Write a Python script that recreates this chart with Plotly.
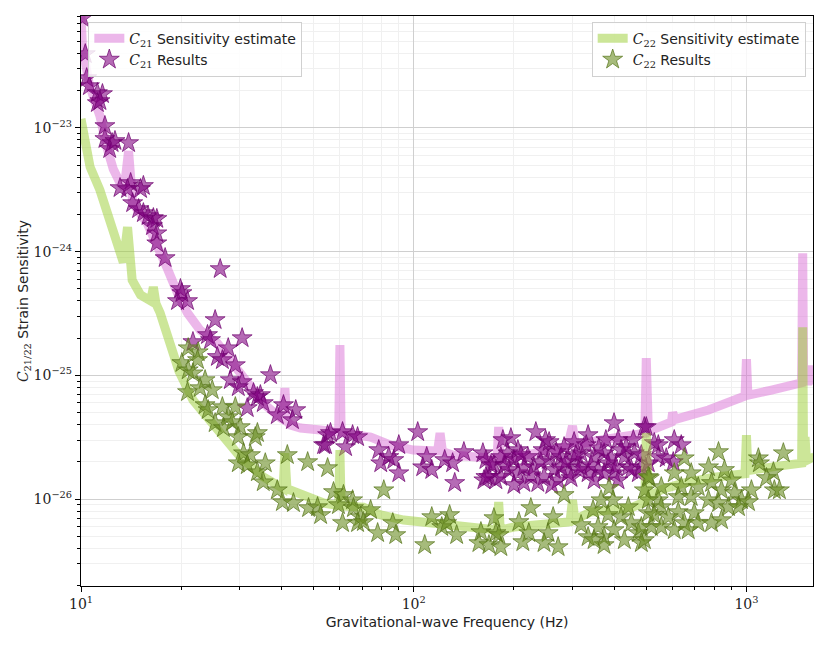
import plotly.graph_objects as go

# ---------------- data ----------------
# Sensitivity estimate curves (frequency in Hz, strain in units of 1e-26)
c21_sens_freq = [10.0, 10.1, 10.6, 11.4, 12.0, 12.5, 13.1, 13.5, 13.9, 14.3, 15.8, 16.9, 18.2, 19.5, 20.9,
                 22.8, 25.7, 29.1, 32.3, 35.8, 39.8, 40.5, 41.0, 41.5, 42.6, 45.7, 52.5, 58.2, 59.5, 60.0,
                 60.5, 64.6, 74.2, 85.3, 99.7, 118, 120, 122, 131, 154, 178, 180, 182, 225, 277, 290, 300,
                 306, 366, 451, 495, 500, 507, 518, 595, 600, 610, 769, 966, 990, 1000, 1010, 1189, 1367,
                 1465, 1476, 1485, 1530, 1545, 1560, 1600]
c21_sens_h = [8000, 4590, 2220, 1248, 676, 465, 359, 330, 650, 247, 170, 117, 72.4, 46.3, 31.9,
              23.2, 18.2, 11.7, 8.04, 5.75, 4.52, 4.4, 7.9, 4.3, 3.97, 3.75, 3.61, 3.48, 3.48, 17.6,
              3.45, 3.35, 3.17, 2.73, 2.49, 2.45, 3.42, 2.42, 2.27, 2.19, 2.14, 3.82, 2.14, 2.31, 2.55, 2.65, 3.9,
              2.75, 3.0, 3.29, 3.4, 13.8, 3.6, 3.61, 4.2, 5.0, 4.4, 5.24, 6.68, 6.8, 13.5, 6.9, 7.6, 8.35,
              8.7, 97, 9.0, 9.0, 12.0, 9.1, 9.2]

c22_sens_freq = [10.0, 10.35, 10.65, 11.4, 12.2, 12.9, 13.4, 13.8, 14.1, 14.25, 15.1, 15.8, 16.2, 16.5, 16.8,
                 17.3, 18.2, 19.7, 21.7, 25.7, 30.1, 35.3, 39.8, 40.5, 41.0, 41.6, 42.6, 47.3, 53.6, 58.2,
                 59.5, 60.0, 60.5, 70.6, 79.6, 93.3, 112, 131, 178, 180, 182, 200, 254, 291, 295, 300, 305,
                 340, 450, 495, 500, 507, 560, 650, 800, 990, 1000, 1010, 1200, 1350, 1465, 1476, 1485,
                 1500, 1515, 1600]
c22_sens_h = [1182, 663, 483, 315, 180, 103, 82, 158, 70, 58.9, 44.6, 40.6, 40, 51.8, 38,
              31.9, 20, 10.8, 6.31, 3.61, 2.19, 1.51, 1.25, 1.22, 2.35, 1.20, 1.18, 1.04, 0.928, 0.894,
              0.89, 2.49, 0.88, 0.861, 0.743, 0.676, 0.640, 0.617, 0.561, 0.946, 0.561, 0.594, 0.617, 0.652, 0.66, 0.98, 0.68,
              0.785, 0.85, 0.95, 3.42, 1.05, 1.2, 1.35, 1.5, 1.6, 3.29, 1.7, 1.82, 1.9, 1.95, 24.5, 2.0,
              3.17, 2.05, 2.2]

# Search results (frequency in Hz, strain in units of 1e-26)
c21_freq = [10.1, 10.3, 10.4, 10.6, 11.2, 11.6, 11.2, 11.4, 11.8, 11.8, 12.4, 12.2, 12.65, 13.9, 13.1, 14.1, 13.8,
            15.4, 15.1, 14.3, 14.9, 15.4, 15.9, 16.5, 16.9, 16.4, 16.9, 16.9, 17.9, 26.2, 19.9, 19.5, 20.9,
            20.1, 25.3, 21.7, 24.0, 24.5, 30.5, 27.7, 25.7, 26.6, 29.1, 28.1, 30.5, 29.7, 37.1, 33.0, 34.6,
            35.3, 33.9, 31.6, 38.9, 40.6, 44.2, 43.2, 55.1, 53.6,
            56.2, 61.1, 54.3, 62.4, 65.5, 67.8, 78.5, 84.1, 90.2, 79.6, 87.1, 90.2, 102.8, 109.4, 106.4, 113.3,
            123.9, 130.9, 141.5, 132.8, 161.4, 164.8, 174.2, 168.3, 176.6, 162.5,
            170.6, 164.8, 185.4, 195.9, 191.9, 200, 193.2, 182.8, 205.6, 214.3, 200, 220.3, 232.8, 229.6, 244.7,
            255.2, 253.5, 264.2, 246.4, 236.0, 277.3, 277.3, 291.1, 303.4, 303.4, 318.4, 334.2, 318.4, 334.2,
            348.3, 358.1, 348.3, 373.3, 383.7, 400, 411.2, 400, 411.2, 429.5, 441.6, 460.3, 457.1, 493.3, 473.2,
            528.4, 507, 419.8, 373.3, 283.1, 214.3, 205.6, 182.8, 271.6,
            500, 543.3, 606.7, 636.8, 602.6, 543.3, 574.1, 483.1,
            210, 241, 268, 297, 307, 330, 341, 360, 392, 405, 435, 451, 483, 188, 225, 260, 287, 313, 378, 249]
c21_h = [7730, 3955, 2530, 2180, 1915, 1880, 1590, 1650, 1037, 815, 755, 676, 785, 755, 327, 359, 321,
         340, 321, 247, 221, 205, 194, 187, 184, 161, 141, 117, 88.8, 72.4, 49.9, 39.9, 39.9,
         46.3, 28.0, 18.6, 21.2, 19.3, 20.0, 16.6, 14.1, 13.3, 12.1, 9.16, 8.83, 8.04, 10.05, 7.19, 6.93,
         5.97, 6.68, 5.44, 4.77, 5.75, 5.24, 4.35, 3.29, 2.73,
         3.42, 3.48, 2.73, 2.63, 3.29, 3.17, 2.49, 2.19, 2.73, 1.95, 2.07, 1.62, 3.48, 2.19, 1.81, 1.72,
         2.07, 1.95, 2.40, 1.35, 2.35, 2.07, 1.88, 1.51, 1.42, 1.42,
         1.88, 1.51, 3.00, 3.11, 2.35, 2.07, 1.72, 1.51, 1.62, 1.35, 1.30, 2.19, 3.48, 1.81, 2.49,
         2.89, 2.07, 1.72, 1.51, 1.35, 2.19, 1.81, 1.62, 2.89, 2.07, 1.81, 3.29, 2.35, 1.62,
         2.19, 1.72, 1.42, 2.35, 1.95, 4.11, 3.00, 1.62, 1.42, 2.19, 1.81, 2.35, 3.00, 3.82, 1.62,
         2.84, 1.95, 2.49, 1.62, 2.63, 1.81, 2.49, 2.19, 1.42,
         3.82, 2.73, 3.00, 2.73, 1.99, 2.19, 2.14, 1.81,
         2.27, 1.99, 2.40, 1.48, 2.27, 2.73, 1.88, 2.58, 2.14, 1.81, 2.63, 1.72, 2.27, 1.88, 1.56, 1.30, 1.99, 1.72, 3.00, 3.00]

c22_freq = [21.0, 22.5, 22.4, 20.1, 21.0, 21.7, 23.6, 20.9, 22.8, 24.8, 23.6, 24.1, 26.6, 29.1, 25.3, 27.7,
            28.5, 26.8, 30.1, 29.7, 33.9, 33.4, 30.8, 32.3, 29.7, 31.6, 35.8, 33.9, 35.3, 38.9, 41.7, 48.0,
            40.3, 43.5, 48.3, 51.4, 52.5, 55.1,
            57.4, 61.5, 59.4, 65.5, 65.9, 69.2, 67.8, 74.2, 70.6, 61.1, 81.3, 77.9, 86.5, 88.3, 107.9, 113.3,
            121.4, 128.2, 125.6, 134.6, 159.2, 174.2, 157.0, 168.3, 176.6,
            180.3, 182.8, 224.9, 207.0, 221.8, 212.8, 253.5, 246.4, 262.4, 271.6, 283.1, 318.4, 334.2, 345.9,
            365.6, 386.4, 397.2, 358.1, 383.7, 373.3, 400, 419.8, 429.5, 450.8, 473.2, 483.1, 507, 517.6,
            510.5, 493.3, 543.3, 373.3, 348.3, 441.6,
            824.1, 650.1, 769.1, 859.0, 606.7, 682.3, 785.2, 901.6, 507, 554.6, 636.8, 716.1, 841.4, 920.4,
            1035, 966.1, 1014, 1086, 1094, 1291, 1205, 1148, 1213, 1256, 507, 554.6, 623.7, 682.3, 769.1,
            824.1, 883.1, 623.7, 696.6, 582.1, 528.4, 650.1, 716.1, 785.2, 841.4, 554.6, 606.7, 668.3,
            493.3, 483.1, 946.2]
c22_h = [16.6, 15.4, 13.3, 12.6, 11.0, 10.4, 9.16, 7.33, 7.89, 7.60, 5.75, 5.24, 5.54, 5.54, 4.11, 4.60,
         4.19, 3.75, 3.82, 3.17, 3.42, 3.17, 2.35, 2.27, 1.95, 1.88, 1.95, 1.65, 1.37, 1.18, 2.27, 1.99,
         0.946, 0.928, 0.846, 0.861, 0.743, 1.78,
         1.14, 1.08, 0.894, 0.98, 0.846, 0.715, 0.640, 0.815, 0.652, 0.640, 1.18, 0.531, 0.640, 0.512, 0.425, 0.715,
         0.594, 0.743, 0.640, 0.512, 0.541, 0.702, 0.441, 0.425, 0.531,
         0.512, 0.409, 0.846, 0.652, 0.531, 0.449, 0.531, 0.441, 0.715, 0.409, 1.08, 0.617, 0.493, 0.815,
         0.98, 1.23, 0.98, 0.594, 0.743, 0.493, 0.561, 0.715, 0.466, 0.640, 0.531, 0.441, 0.770, 0.594,
         1.48, 1.18, 0.98, 0.425, 0.466, 0.861,
         2.40, 2.14, 1.81, 1.72, 1.62, 1.62, 1.35, 1.42, 1.51, 1.25, 1.25, 1.25, 1.18, 1.12,
         1.18, 0.98, 0.946, 2.14, 1.95, 2.35, 1.65, 1.48, 1.18, 1.18, 0.98, 0.861, 1.04, 1.04, 0.98,
         0.928, 0.861, 0.785, 0.770, 0.715, 0.743, 0.640, 0.640, 0.640, 0.676, 0.594, 0.561, 0.561,
         0.466, 0.594, 0.861]

UNIT = 1e-26
x_tick_vals = [10, 100, 1000]
x_tick_text = ["10<sup>1</sup>", "10<sup>2</sup>", "10<sup>3</sup>"]
y_tick_vals = [1e-26, 1e-25, 1e-24, 1e-23]
y_tick_text = ["10<sup>\u221226</sup>", "10<sup>\u221225</sup>", "10<sup>\u221224</sup>", "10<sup>\u221223</sup>"]

# ---------------- figure ----------------
SANS = "DejaVu Sans"
SERIF = "DejaVu Serif"


def cname(sub):
    return f'<span style="font-family:{SERIF}"><i>C</i><sub>{sub}</sub></span>'


fig = go.Figure()
fig.add_trace(go.Scatter(
    x=c21_sens_freq, y=[v * UNIT for v in c21_sens_h], mode="lines",
    line=dict(color="rgba(218,112,214,0.5)", width=9),
    name=cname("21") + " Sensitivity estimate", legend="legend"))
fig.add_trace(go.Scatter(
    x=c21_freq, y=[v * UNIT for v in c21_h], mode="markers",
    marker=dict(symbol="star", size=15, color="rgba(128,0,128,0.58)",
                line=dict(color="rgba(110,0,110,0.7)", width=1)),
    name=cname("21") + " Results", legend="legend"))
fig.add_trace(go.Scatter(
    x=c22_sens_freq, y=[v * UNIT for v in c22_sens_h], mode="lines",
    line=dict(color="rgba(154,205,50,0.5)", width=9),
    name=cname("22") + " Sensitivity estimate", legend="legend2"))
fig.add_trace(go.Scatter(
    x=c22_freq, y=[v * UNIT for v in c22_h], mode="markers",
    marker=dict(symbol="star", size=15, color="rgba(107,142,35,0.6)",
                line=dict(color="rgba(85,115,25,0.7)", width=1)),
    name=cname("22") + " Results", legend="legend2"))

x_minor = [m * 10 ** e for e in range(1, 4) for m in range(2, 10)]
y_minor = [m * 10.0 ** e for e in range(-27, -22) for m in range(2, 10)]

axis_common = dict(
    type="log", showline=True, linecolor="black", linewidth=1.2, mirror=True,
    ticks="outside", ticklen=5, tickcolor="black", tickmode="array",
    showgrid=True, gridcolor="#cfcfcf", gridwidth=1, zeroline=False,
    tickfont=dict(family=SERIF, size=14, color="#222"),
)

fig.update_layout(
    width=822, height=638,
    margin=dict(l=73, r=17, t=8, b=60),
    paper_bgcolor="white", plot_bgcolor="white",
    font=dict(family=SANS, size=13, color="#222"),
    hovermode=False,
    xaxis=dict(axis_common, range=[1, 3.2], tickvals=x_tick_vals, ticktext=x_tick_text,
               minor=dict(tickmode="array", tickvals=x_minor, ticks="outside", ticklen=3,
                          tickcolor="black", showgrid=True, gridcolor="#f0f0f0"),
               title=dict(text="Gravitational-wave Frequency (Hz)", font=dict(size=14), standoff=6)),
    yaxis=dict(axis_common, range=[-26.703, -22.095], tickvals=y_tick_vals, ticktext=y_tick_text,
               minor=dict(tickmode="array", tickvals=y_minor, ticks="outside", ticklen=3,
                          tickcolor="black", showgrid=True, gridcolor="#f0f0f0"),
               title=dict(text=cname("21/22") + " Strain Sensitivity", font=dict(size=14), standoff=1)),
    legend=dict(x=0.01, y=0.99, xanchor="left", yanchor="top",
                bgcolor="rgba(255,255,255,0.85)", bordercolor="#d0d0d0", borderwidth=1,
                font=dict(family=SANS, size=14), tracegroupgap=0),
    legend2=dict(x=0.99, y=0.99, xanchor="right", yanchor="top",
                 bgcolor="rgba(255,255,255,0.85)", bordercolor="#d0d0d0", borderwidth=1,
                 font=dict(family=SANS, size=14), tracegroupgap=0),
)

fig.write_html("out.html")
